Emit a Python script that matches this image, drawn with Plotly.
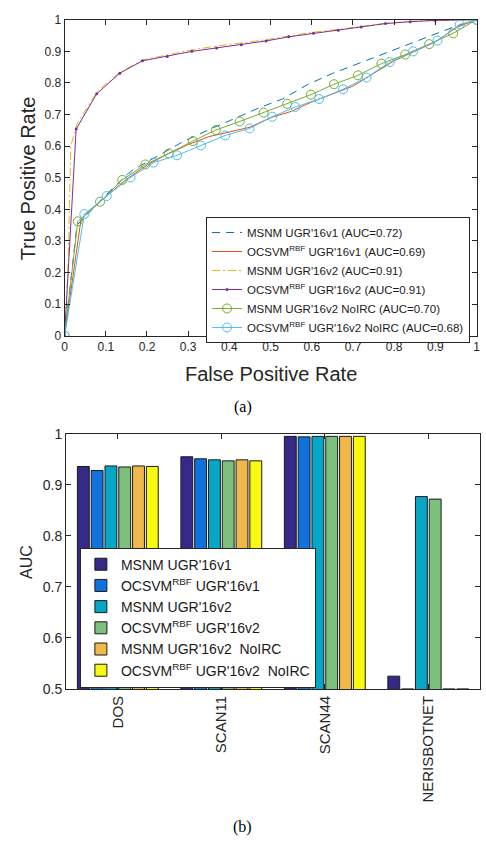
import plotly.graph_objects as go

# ---------------- ROC data (top panel) ----------------
fpr_msnm_v1 = [0, 0.03, 0.10, 0.16, 0.23, 0.29, 0.35, 0.41, 0.47, 0.53, 0.59, 0.65, 0.71, 0.77, 0.83, 0.89, 0.95, 1]
tpr_msnm_v1 = [0, 0.35, 0.445, 0.52, 0.572, 0.616, 0.652, 0.685, 0.72, 0.75, 0.795, 0.83, 0.86, 0.89, 0.92, 0.95, 0.98, 1]

fpr_ocsvm_v1 = [0, 0.04, 0.10, 0.15, 0.20, 0.25, 0.30, 0.35, 0.40, 0.45, 0.50, 0.55, 0.60, 0.65, 0.70, 0.75, 0.80, 0.85, 0.90, 0.95, 1]
tpr_ocsvm_v1 = [0, 0.37, 0.44, 0.495, 0.54, 0.575, 0.605, 0.63, 0.645, 0.66, 0.69, 0.71, 0.74, 0.765, 0.79, 0.83, 0.87, 0.90, 0.93, 0.975, 1]

fpr_msnm_v2 = [0, 0.008, 0.015, 0.03, 0.08, 0.135, 0.19, 0.25, 0.31, 0.37, 0.43, 0.49, 0.545, 0.60, 0.66, 0.72, 0.78, 0.84, 0.90, 1]
tpr_msnm_v2 = [0, 0.20, 0.60, 0.67, 0.775, 0.835, 0.873, 0.889, 0.905, 0.917, 0.926, 0.937, 0.949, 0.96, 0.969, 0.979, 0.989, 0.995, 0.998, 1]

fpr_ocsvm_v2 = [0, 0.028, 0.078, 0.134, 0.189, 0.249, 0.309, 0.369, 0.429, 0.489, 0.544, 0.604, 0.664, 0.72, 0.779, 0.839, 0.899, 1]
tpr_ocsvm_v2 = [0, 0.654, 0.766, 0.831, 0.870, 0.884, 0.900, 0.911, 0.921, 0.933, 0.946, 0.957, 0.967, 0.977, 0.988, 0.994, 0.998, 1]

fpr_msnm_v2_noirc = [0, 0.032, 0.086, 0.14, 0.196, 0.253, 0.311, 0.367, 0.425, 0.483, 0.540, 0.598, 0.654, 0.712, 0.769, 0.827, 0.885, 0.943, 1]
tpr_msnm_v2_noirc = [0, 0.362, 0.424, 0.493, 0.542, 0.577, 0.616, 0.651, 0.678, 0.706, 0.734, 0.763, 0.796, 0.824, 0.861, 0.890, 0.923, 0.957, 1]

fpr_ocsvm_v2_noirc = [0, 0.048, 0.102, 0.160, 0.216, 0.273, 0.331, 0.390, 0.449, 0.504, 0.560, 0.618, 0.676, 0.733, 0.789, 0.846, 0.905, 0.959, 1]
tpr_ocsvm_v2_noirc = [0, 0.385, 0.442, 0.501, 0.548, 0.571, 0.602, 0.634, 0.656, 0.693, 0.724, 0.749, 0.780, 0.817, 0.866, 0.900, 0.934, 0.985, 1]

roc_names = [
    "MSNM UGR'16v1 (AUC=0.72)",
    "OCSVM<sup>RBF</sup> UGR'16v1 (AUC=0.69)",
    "MSNM UGR'16v2 (AUC=0.91)",
    "OCSVM<sup>RBF</sup> UGR'16v2 (AUC=0.91)",
    "MSNM UGR'16v2 NoIRC (AUC=0.70)",
    "OCSVM<sup>RBF</sup> UGR'16v2 NoIRC (AUC=0.68)",
]

# ---------------- AUC bar data (bottom panel) ----------------
categories = ["DOS", "SCAN11", "SCAN44", "NERISBOTNET"]
auc_msnm_v1 = [0.936, 0.955, 0.995, 0.525]
auc_ocsvm_v1 = [0.928, 0.951, 0.994, 0.5]
auc_msnm_v2 = [0.937, 0.949, 0.995, 0.877]
auc_ocsvm_v2 = [0.935, 0.947, 0.995, 0.872]
auc_msnm_v2_noirc = [0.937, 0.949, 0.995, 0.5]
auc_ocsvm_v2_noirc = [0.936, 0.947, 0.995, 0.5]

bar_names = [
    "MSNM UGR'16v1",
    "OCSVM<sup>RBF</sup> UGR'16v1",
    "MSNM UGR'16v2",
    "OCSVM<sup>RBF</sup> UGR'16v2",
    "MSNM UGR'16v2  NoIRC",
    "OCSVM<sup>RBF</sup> UGR'16v2  NoIRC",
]
bar_colors = ["#352a87", "#0f72dd", "#06a7c6", "#7dbf7c", "#f0b84a", "#f8f90f"]

W, H = 486, 848
FONT = "Liberation Sans, Arial, sans-serif"
TXT = "#262626"

def px_x(p):
    return p / W

def px_y(p):
    return 1 - p / H

fig = go.Figure()

# ROC lines
roc_series = [
    (fpr_msnm_v1, tpr_msnm_v1, dict(color="#0072bd", width=1, dash="8px,6px"), None),
    (fpr_ocsvm_v1, tpr_ocsvm_v1, dict(color="#d95319", width=1), None),
    (fpr_msnm_v2, tpr_msnm_v2, dict(color="#edb120", width=1, dash="8px,3px,2px,3px"), None),
    (fpr_ocsvm_v2, tpr_ocsvm_v2, dict(color="#7e2f8e", width=1), dict(symbol="circle", size=3, color="#7e2f8e")),
    (fpr_msnm_v2_noirc, tpr_msnm_v2_noirc, dict(color="#77ac30", width=1),
     dict(symbol="circle-open", size=9, color="#77ac30", line=dict(width=1))),
    (fpr_ocsvm_v2_noirc, tpr_ocsvm_v2_noirc, dict(color="#4dbeee", width=1),
     dict(symbol="circle-open", size=9, color="#4dbeee", line=dict(width=1))),
]
for (xs, ys, ln, mk), name in zip(roc_series, roc_names):
    fig.add_trace(go.Scatter(
        x=xs, y=ys, name=name, mode="lines+markers" if mk else "lines",
        line=ln, marker=mk, xaxis="x", yaxis="y", legend="legend",
    ))

# Bars
bar_series = [auc_msnm_v1, auc_ocsvm_v1, auc_msnm_v2, auc_ocsvm_v2, auc_msnm_v2_noirc, auc_ocsvm_v2_noirc]
for vals, name, col in zip(bar_series, bar_names, bar_colors):
    fig.add_trace(go.Bar(
        x=[1, 2, 3, 4], y=vals, name=name, marker=dict(color=col, line=dict(color="#1a1a1a", width=1)),
        xaxis="x2", yaxis="y2", legend="legend2",
    ))

axis_common = dict(
    showgrid=False, zeroline=False, showline=True, linecolor=TXT, linewidth=1,
    mirror="ticks", ticks="inside", ticklen=5, tickcolor=TXT, tickwidth=1,
)

fig.update_layout(
    width=W, height=H,
    margin=dict(l=0, r=0, t=0, b=0),
    paper_bgcolor="white", plot_bgcolor="white",
    font=dict(family=FONT, color=TXT),
    barmode="group", bargap=0.2, bargroupgap=0.14,
    xaxis=dict(domain=[px_x(62.5), px_x(480.5)], range=[0, 1], dtick=0.1, tick0=0,
               anchor="y", tickfont=dict(family=FONT, color=TXT, size=12), **axis_common),
    yaxis=dict(domain=[px_y(334), px_y(12)], range=[0, 1], dtick=0.1, tick0=0,
               anchor="x", tickfont=dict(family=FONT, color=TXT, size=12), **axis_common),
    xaxis2=dict(domain=[px_x(64), px_x(484)], range=[0.5, 4.5], tickvals=[1, 2, 3, 4],
                ticktext=categories, tickangle=-90, anchor="y2",
                tickfont=dict(family=FONT, color=TXT, size=15), **axis_common),
    yaxis2=dict(domain=[px_y(694), px_y(434)], range=[0.5, 1], dtick=0.1, tick0=0.5,
                anchor="x2", tickfont=dict(family=FONT, color=TXT, size=14), **axis_common),
    legend=dict(x=px_x(206), y=px_y(213), xanchor="left", yanchor="top",
                bgcolor="white", bordercolor="#262626", borderwidth=1,
                font=dict(family=FONT, size=11.5, color="#1a1a1a"), tracegroupgap=0,
                itemwidth=30),
    legend2=dict(x=px_x(78), y=px_y(550), xanchor="left", yanchor="top",
                 bgcolor="white", bordercolor="#262626", borderwidth=1,
                 font=dict(family=FONT, size=14, color="#1a1a1a"), tracegroupgap=0,
                 itemwidth=30),
    showlegend=True,
)

annots = [
    dict(text="False Positive Rate", x=px_x(272), y=px_y(373), font=dict(size=20)),
    dict(text="True Positive Rate", x=px_x(25), y=px_y(174), font=dict(size=20), textangle=-90),
    dict(text="AUC", x=px_x(24), y=px_y(565), font=dict(size=16), textangle=-90),
    dict(text="(a)", x=px_x(243), y=px_y(407), font=dict(size=16, family="Liberation Serif, Times New Roman, serif", color="black")),
    dict(text="(b)", x=px_x(243), y=px_y(835), font=dict(size=16, family="Liberation Serif, Times New Roman, serif", color="black")),
]
for a in annots:
    fig.add_annotation(xref="paper", yref="paper", showarrow=False, xanchor="center", yanchor="middle", **a)

fig.write_html("out.html")
